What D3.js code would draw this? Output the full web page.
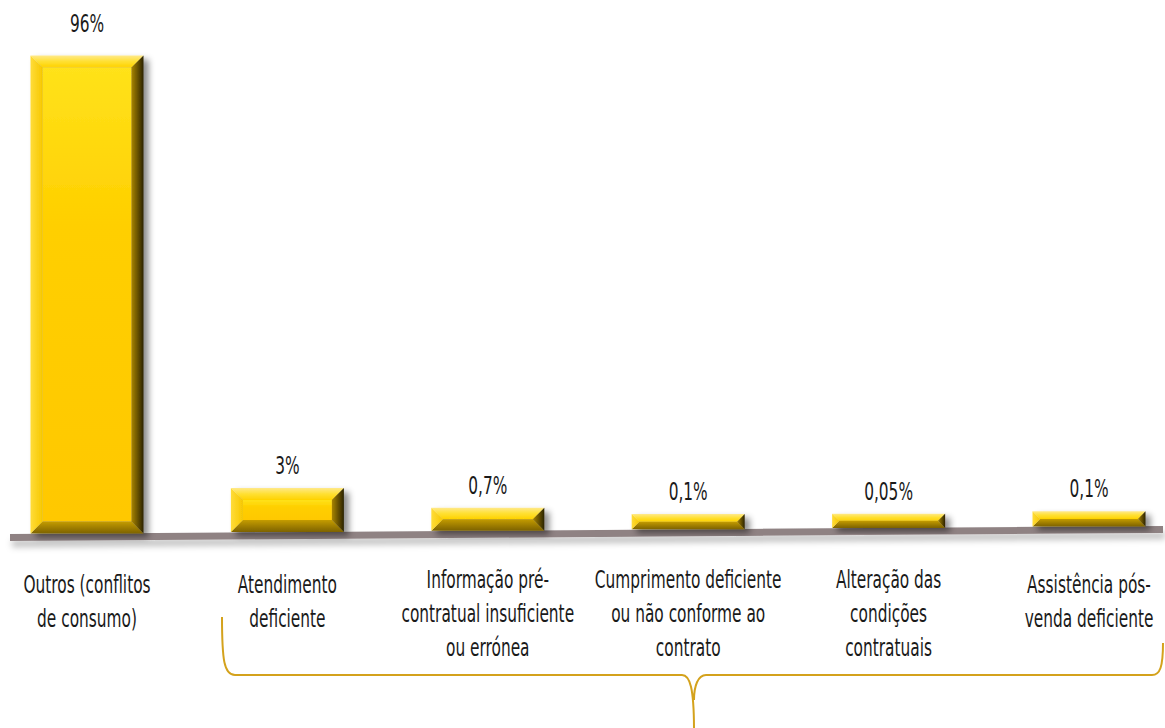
<!DOCTYPE html>
<html>
<head>
<meta charset="utf-8">
<script src="https://cdn.jsdelivr.net/npm/d3@7"></script>
<style>
  body { margin: 0; background: #fff; }
  text { font-family: "DejaVu Sans Condensed", "Liberation Sans Narrow", sans-serif; fill: #1a1a1a; }
</style>
</head>
<body>
<div id="chart"></div>
<script>
// data
var categories = ["Outros (conflitos de consumo)", "Atendimento deficiente",
    "Informação pré-contratual insuficiente ou errónea",
    "Cumprimento deficiente ou não conforme ao contrato",
    "Alteração das condições contratuais", "Assistência pós-venda deficiente"];
var labelLines = [
    ["Outros (conflitos", "de consumo)"],
    ["Atendimento", "deficiente"],
    ["Informação pré-", "contratual insuficiente", "ou errónea"],
    ["Cumprimento deficiente", "ou não conforme ao", "contrato"],
    ["Alteração das", "condições", "contratuais"],
    ["Assistência pós-", "venda deficiente"]
];
var values = [96, 3, 0.7, 0.1, 0.05, 0.1];
var valueLabels = ["96%", "3%", "0,7%", "0,1%", "0,05%", "0,1%"];

var width = 1165, height = 728;

var svg = d3.select("#chart").append("svg")
    .attr("width", width)
    .attr("height", height);

var defs = svg.append("defs");

function grad(id, x2, y2, stops) {
    var g = defs.append("linearGradient").attr("id", id)
        .attr("x1", 0).attr("y1", 0).attr("x2", x2).attr("y2", y2);
    stops.forEach(function (s) {
        g.append("stop").attr("offset", s[0]).attr("stop-color", s[1]);
    });
}
grad("gTop", 0, 1, [[0, "#ffe98a"], [0.5, "#ffe033"], [1, "#ffd200"]]);
grad("gLeft", 1, 0, [[0, "#ffdc3a"], [1, "#f7c800"]]);
grad("gRight", 1, 0, [[0, "#a88400"], [0.6, "#5e4a00"], [1, "#2a2200"]]);
grad("gBottom", 0, 1, [[0, "#c49c00"], [1, "#7d6200"]]);
grad("gFace", 0, 1, [[0, "#ffe21a"], [0.35, "#ffcf00"], [1, "#ffc800"]]);

var shadow = defs.append("filter").attr("id", "shadow")
    .attr("x", "-20%").attr("y", "-20%").attr("width", "150%").attr("height", "160%");
shadow.append("feDropShadow").attr("dx", 5).attr("dy", 4).attr("stdDeviation", 3)
    .attr("flood-color", "#000").attr("flood-opacity", 0.45);

var floorShadow = defs.append("filter").attr("id", "floorShadow")
    .attr("x", "-5%").attr("y", "-100%").attr("width", "110%").attr("height", "400%");
floorShadow.append("feDropShadow").attr("dx", 2).attr("dy", 6).attr("stdDeviation", 3)
    .attr("flood-color", "#000").attr("flood-opacity", 0.25);

// x positions of the bars
var x = d3.scalePoint()
    .domain(categories)
    .range([87, 1089]);
var barW = 113;

// slanted floor (perspective)
var floorX = [10, 1163];
var floorY = d3.scaleLinear().domain(floorX).range([534, 526]);
var floorT = 7;

svg.append("polygon")
    .attr("points", [
        [floorX[0], floorY(floorX[0])], [floorX[1], floorY(floorX[1])],
        [floorX[1], floorY(floorX[1]) + floorT], [floorX[0], floorY(floorX[0]) + floorT]
    ].join(" "))
    .attr("fill", "#8f8283")
    .attr("filter", "url(#floorShadow)");

// bar heights: bevel thickness plus a power scale
var minH = 13;
var y = d3.scalePow().exponent(0.78)
    .domain([0, 96])
    .range([0, 465]);

var bars = svg.append("g").selectAll("g")
    .data(categories)
    .enter()
    .append("g")
    .attr("filter", "url(#shadow)");

bars.each(function (c, i) {
    var g = d3.select(this);
    var cx = x(c);
    var x0 = cx - barW / 2, x1 = cx + barW / 2;
    var y1 = floorY(cx);
    var h = minH + y(values[i]);
    var y0 = y1 - h;
    var b = Math.min(12, h / 2);

    g.append("rect").attr("x", x0 + b).attr("y", y0 + b)
        .attr("width", x1 - x0 - 2 * b).attr("height", Math.max(0, h - 2 * b))
        .attr("fill", "url(#gFace)");
    var facets = [
        ["gTop", [[x0, y0], [x1, y0], [x1 - b, y0 + b], [x0 + b, y0 + b]]],
        ["gBottom", [[x0, y1], [x1, y1], [x1 - b, y1 - b], [x0 + b, y1 - b]]],
        ["gLeft", [[x0, y0], [x0 + b, y0 + b], [x0 + b, y1 - b], [x0, y1]]],
        ["gRight", [[x1, y0], [x1 - b, y0 + b], [x1 - b, y1 - b], [x1, y1]]]
    ];
    facets.forEach(function (f) {
        g.append("polygon")
            .attr("points", f[1].join(" "))
            .attr("fill", "url(#" + f[0] + ")");
    });
});

// narrow, tall lettering
var sx = 0.9, sy = 1.3;

// value labels
svg.append("g").selectAll("text")
    .data(categories)
    .enter()
    .append("text")
    .attr("transform", function (c, i) {
        var ty = floorY(x(c)) - minH - y(values[i]) - (values[i] > 50 ? 30 : 21);
        return "translate(" + x(c) + "," + ty + ") scale(" + sx + "," + sy + ")";
    })
    .attr("text-anchor", "middle")
    .attr("dominant-baseline", "middle")
    .style("font-size", "19px")
    .text(function (c, i) { return valueLabels[i]; });

// category labels
var lineH = 34;
var cat = svg.append("g").selectAll("text")
    .data(categories)
    .enter()
    .append("text")
    .attr("text-anchor", "middle")
    .style("font-size", "19px")
    .attr("transform", function (c, i) {
        var top = labelLines[i].length === 3 ? 581 : 586;
        return "translate(" + x(c) + "," + top + ") scale(" + sx + "," + sy + ")";
    });

cat.each(function (c, i) {
    d3.select(this).selectAll("tspan")
        .data(labelLines[i])
        .enter()
        .append("tspan")
        .attr("x", 0)
        .attr("y", function (d, j) { return j * lineH / sy; })
        .attr("dominant-baseline", "middle")
        .text(function (d) { return d; });
});

// brace grouping the last five categories
var brace = d3.path();
brace.moveTo(222, 617);
brace.bezierCurveTo(222, 660, 224, 675, 235, 675);
brace.lineTo(682, 675);
brace.bezierCurveTo(690, 675, 694, 688, 694, 730);
brace.moveTo(694, 700);
brace.bezierCurveTo(694, 686, 698, 675, 706, 675);
brace.lineTo(1152, 675);
brace.bezierCurveTo(1160, 675, 1163, 667, 1163, 643);

svg.append("path")
    .attr("d", brace.toString())
    .attr("fill", "none")
    .attr("stroke", "#d4a21c")
    .attr("stroke-width", 2);
</script>
</body>
</html>
